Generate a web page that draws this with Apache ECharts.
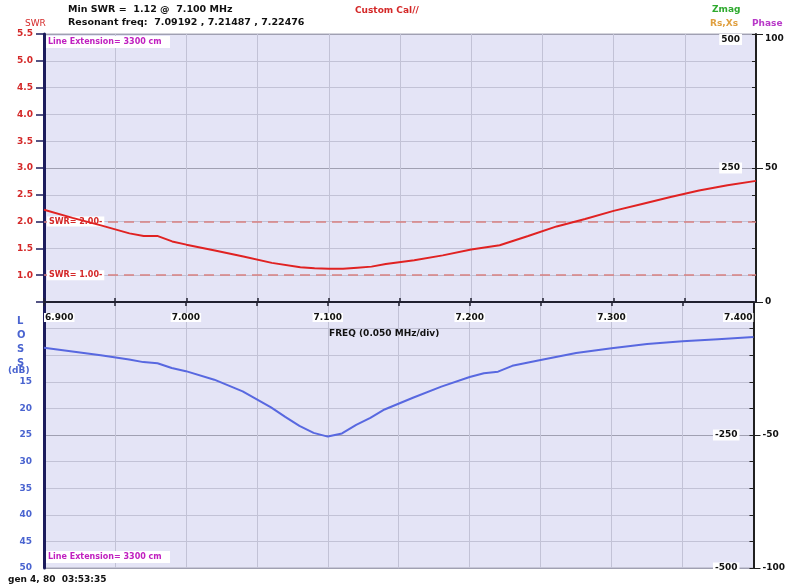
<!DOCTYPE html>
<html>
<head>
<meta charset="utf-8">
<script src="https://cdn.jsdelivr.net/npm/echarts@6/dist/echarts.min.js"></script>
<style>
html,body{margin:0;padding:0;background:#fff;}
#c{width:788px;height:586px;}
</style>
</head>
<body>
<div id="c"></div>
<script>
// ---- data ----
var swrFreq = [6.900,6.920,6.940,6.960,6.970,6.980,6.990,7.000,7.020,7.040,7.060,7.080,7.090,7.100,7.110,7.120,7.130,7.140,7.160,7.180,7.200,7.220,7.240,7.260,7.280,7.300,7.320,7.340,7.360,7.380,7.400];
var swrVals = [2.22,2.07,1.93,1.78,1.73,1.73,1.63,1.57,1.46,1.35,1.23,1.15,1.13,1.12,1.12,1.14,1.16,1.21,1.28,1.37,1.48,1.56,1.73,1.91,2.05,2.20,2.33,2.46,2.58,2.68,2.76];
var lossFreq = [6.900,6.920,6.940,6.960,6.970,6.980,6.990,7.000,7.020,7.040,7.060,7.070,7.080,7.090,7.100,7.110,7.120,7.130,7.140,7.160,7.180,7.200,7.210,7.220,7.230,7.250,7.275,7.300,7.325,7.350,7.375,7.400];
var lossVals = [8.6,9.3,10.0,10.8,11.3,11.5,12.4,13.0,14.6,16.8,19.8,21.6,23.3,24.6,25.3,24.7,23.1,21.8,20.2,18.0,15.9,14.1,13.4,13.1,12.0,10.9,9.6,8.7,7.9,7.4,7.0,6.6];
var swrRefLines = [2.0, 1.0];
var freqMin = 6.9, freqMax = 7.4, freqStep = 0.05;

var BG = '#E4E4F6', GRIDC = '#C2C2D6', MIDC = '#A0A0B2';
var FONT = 'DejaVu Sans';
var F9 = 'bold 9px "DejaVu Sans"';
var FH = 'bold 9.5px "DejaVu Sans"';
var chart = echarts.init(document.getElementById('c'));

function pairs(xs, ys){ return xs.map(function(x,i){ return [x, ys[i]]; }); }
function freqLabel(v){ return Math.abs(Math.round(v*1000) % 100) === 0 ? '{b|' + v.toFixed(3) + '}' : ''; }
function boxed(v){ return v === 0 ? '' : '{b|' + v + '}'; }
var whiteBox = {b:{backgroundColor:'#fff', padding:[1,2], color:'#111', fontFamily:FONT, fontWeight:'bold', fontSize:9}};
var whiteBoxX = {b:{backgroundColor:'#fff', padding:[0,1], color:'#111', fontFamily:FONT, fontWeight:'bold', fontSize:9}};

var option = {
  animation: false,
  backgroundColor: '#fff',
  grid: [
    {left:44, right:32, top:34, height:268, show:true, backgroundColor:BG, borderColor:'#A8A8B8', borderWidth:1},
    {left:44, right:32, top:302, height:266, show:true, backgroundColor:BG, borderColor:'#A8A8B8', borderWidth:1}
  ],
  xAxis: [
    {gridIndex:0, type:'value', min:freqMin, max:freqMax, interval:freqStep, position:'bottom',
     axisLine:{show:false}, axisTick:{show:true, inside:true, length:4, lineStyle:{color:'#202030', width:1.5}},
     axisLabel:{show:false}, splitLine:{show:true, lineStyle:{color:GRIDC, width:1}}},
    {gridIndex:1, type:'value', min:freqMin, max:freqMax, interval:freqStep, position:'top',
     axisLine:{show:true, onZero:false, lineStyle:{color:'#202030', width:2}},
     axisTick:{show:true, inside:true, length:4, lineStyle:{color:'#202030', width:1.5}},
     axisLabel:{show:true, inside:true, margin:11, formatter:freqLabel, rich:whiteBoxX,
       verticalAlign:'top', alignMinLabel:'left', alignMaxLabel:'right'},
     splitLine:{show:true, lineStyle:{color:GRIDC, width:1}}}
  ],
  yAxis: [
    {gridIndex:0, type:'value', min:0.5, max:5.5, interval:0.5, position:'left',
     axisLine:{show:true, onZero:false, lineStyle:{color:'#1C1C5C', width:3}},
     axisTick:{show:true, length:8, lineStyle:{color:'#1C1C5C', width:1.5}},
     axisLabel:{margin:11, color:'#D42828', fontFamily:FONT, fontWeight:'bold', fontSize:9,
       formatter:function(v){ return v <= 0.5 ? '' : v.toFixed(1); }},
     splitLine:{show:true, lineStyle:{color:GRIDC, width:1}}},
    {gridIndex:0, type:'value', min:0, max:500, interval:250, position:'right',
     axisLine:{show:true, onZero:false, lineStyle:{color:'#202020', width:2}},
     axisTick:{show:true, inside:true, length:4, lineStyle:{color:'#202020'}},
     minorTick:{show:true, splitNumber:5, length:4, lineStyle:{color:'#202020'}},
     axisLabel:{inside:true, margin:14, verticalAlignMaxLabel:'top', formatter:boxed, rich:whiteBox},
     splitLine:{show:true, lineStyle:{color:MIDC, width:1}}},
    {gridIndex:0, type:'value', min:0, max:100, interval:50, position:'right',
     axisLine:{show:false}, axisTick:{show:true, length:7, lineStyle:{color:'#202020'}},
     axisLabel:{margin:9, color:'#111', fontFamily:FONT, fontWeight:'bold', fontSize:9, verticalAlignMaxLabel:'top'},
     splitLine:{show:false}},
    {gridIndex:1, type:'value', min:0, max:50, interval:5, inverse:true, position:'left',
     axisLine:{show:true, onZero:false, lineStyle:{color:'#1C1C5C', width:3}},
     axisTick:{show:false},
     axisLabel:{margin:12, color:'#4A64D0', fontFamily:FONT, fontWeight:'bold', fontSize:9,
       formatter:function(v){ return v < 15 ? '' : String(v); }},
     splitLine:{show:true, lineStyle:{color:GRIDC, width:1}}},
    {gridIndex:1, type:'value', min:-500, max:0, interval:250, position:'right',
     axisLine:{show:true, onZero:false, lineStyle:{color:'#202020', width:2}},
     axisTick:{show:true, inside:true, length:4, lineStyle:{color:'#202020'}},
     minorTick:{show:true, splitNumber:5, length:4, lineStyle:{color:'#202020'}},
     axisLabel:{inside:true, margin:14, formatter:boxed, rich:whiteBox},
     splitLine:{show:true, lineStyle:{color:MIDC, width:1}}},
    {gridIndex:1, type:'value', min:-100, max:0, interval:50, position:'right',
     axisLine:{show:false}, axisTick:{show:true, length:7, lineStyle:{color:'#202020'}},
     axisLabel:{margin:9, color:'#111', fontFamily:FONT, fontWeight:'bold', fontSize:9,
       formatter:function(v){ return v === 0 ? '' : String(v); }},
     splitLine:{show:false}}
  ],
  series: [
    {name:'SWR', type:'line', xAxisIndex:0, yAxisIndex:0, data:pairs(swrFreq, swrVals), showSymbol:false,
     lineStyle:{color:'#E02222', width:2}, itemStyle:{color:'#E02222'}, z:5,
     markLine:{silent:true, symbol:'none', animation:false,
       lineStyle:{color:'#D88080', type:[10,6], width:1.5},
       label:{show:true, position:'start', align:'left', distance:-3, color:'#D42828', fontFamily:FONT, fontWeight:'bold', fontSize:8,
         backgroundColor:'#fff', padding:[1,2],
         formatter:function(p){ return 'SWR= ' + Number(p.value).toFixed(2) + '-'; }},
       data: swrRefLines.map(function(v){ return {yAxis:v}; })}},
    {name:'Loss', type:'line', xAxisIndex:1, yAxisIndex:3, data:pairs(lossFreq, lossVals), showSymbol:false,
     lineStyle:{color:'#5868E0', width:2}, itemStyle:{color:'#5868E0'}, z:5}
  ],
  graphic: [
    {type:'text', left:68, top:5, style:{text:'Min SWR =  1.12 @  7.100 MHz', font:FH, fill:'#111'}},
    {type:'text', left:68, top:18, style:{text:'Resonant freq:  7.09192 , 7.21487 , 7.22476', font:FH, fill:'#111'}},
    {type:'text', left:25, top:19, style:{text:'SWR', font:'9px "DejaVu Sans"', fill:'#D42828'}},
    {type:'text', left:355, top:6, style:{text:'Custom Cal//', font:F9, fill:'#D42828'}},
    {type:'text', left:712, top:5, style:{text:'Zmag', font:F9, fill:'#2EAA2E'}},
    {type:'text', left:710, top:19, style:{text:'Rs,Xs', font:F9, fill:'#E0A040'}},
    {type:'text', left:752, top:19, style:{text:'Phase', font:F9, fill:'#B838C8'}},
    {type:'rect', left:46, top:36, shape:{width:124, height:12}, style:{fill:'#fff'}, z:10},
    {type:'text', left:48, top:38, style:{text:'Line Extension= 3300 cm', font:'bold 8px "DejaVu Sans"', fill:'#C020C0'}, z:11},
    {type:'rect', left:46, top:551, shape:{width:124, height:12}, style:{fill:'#fff'}, z:10},
    {type:'text', left:48, top:553, style:{text:'Line Extension= 3300 cm', font:'bold 8px "DejaVu Sans"', fill:'#C020C0'}, z:11},
    {type:'text', left:329, top:329, style:{text:'FREQ (0.050 MHz/div)', font:F9, fill:'#111'}, z:11},
    {type:'text', left:17, top:314, style:{text:'L\nO\nS\nS', font:'bold 10px "DejaVu Sans"', fill:'#4A64D0', align:'center', lineHeight:14}, z:11},
    {type:'text', left:8, top:366, style:{text:'(dB)', font:F9, fill:'#4A64D0'}, z:11},
    {type:'text', left:8, top:575, style:{text:'gen 4, 80  03:53:35', font:F9, fill:'#111'}}
  ]
};
chart.setOption(option);
</script>
</body>
</html>
